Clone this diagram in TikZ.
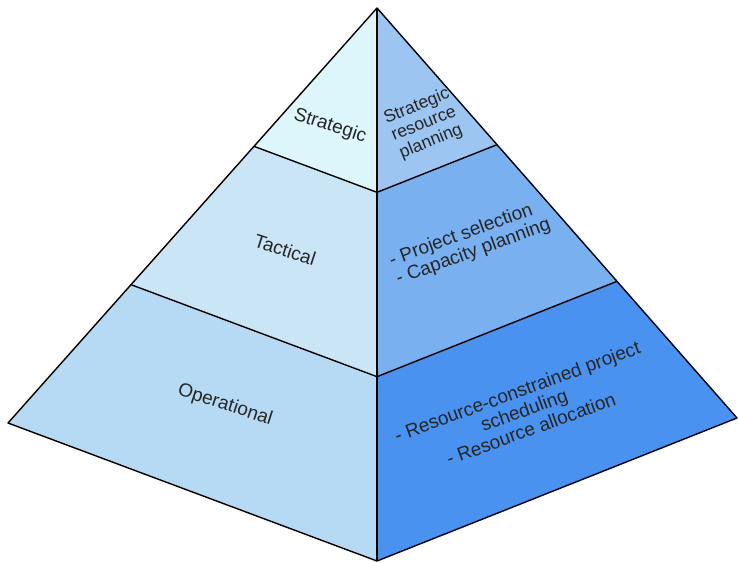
\documentclass[tikz,border=0pt]{standalone}
\usepackage{fontspec}
\setmainfont{Liberation Sans}
\usepackage{tikz}
\usetikzlibrary{calc}

\definecolor{stratL}{HTML}{DDF6FB}
\definecolor{stratR}{HTML}{9CC6F1}
\definecolor{tactL}{HTML}{CAE6F6}
\definecolor{tactR}{HTML}{79B0F0}
\definecolor{operL}{HTML}{B7DAF4}
\definecolor{operR}{HTML}{4A92EF}

\begin{document}
\begin{tikzpicture}[x=1pt,y=-1pt]
				\useasboundingbox (0,0) rectangle (738,562);
				% corners of the pyramid
				\coordinate (apex) at (377,8);
				\coordinate (left) at (8,423);
				\coordinate (front) at (377,561);
				\coordinate (right) at (737,418);
				% level points
				\foreach \c in {left,front,right} {
					\coordinate (\c1) at ($(apex)!1/3!(\c)$);
					\coordinate (\c2) at ($(apex)!2/3!(\c)$);
				}
				\begin{scope}[draw=none]
					\fill[stratL] (apex) -- (left1) -- (front1) -- cycle;
					\fill[stratR] (apex) -- (front1) -- (right1) -- cycle;
					\fill[tactL] (left1) -- (left2) -- (front2) -- (front1) -- cycle;
					\fill[tactR] (front1) -- (front2) -- (right2) -- (right1) -- cycle;
					\fill[operL] (left2) -- (left) -- (front) -- (front2) -- cycle;
					\fill[operR] (front2) -- (front) -- (right) -- (right2) -- cycle;
				\end{scope}
				\begin{scope}[line width=1.4pt, line join=round]
					\draw (apex) -- (left) -- (front) -- (right) -- cycle;
					\draw (apex) -- (front);
					\draw (left1) -- (front1) -- (right1);
					\draw (left2) -- (front2) -- (right2);
				\end{scope}
				\begin{scope}[every node/.style={font=\fontsize{19}{20}\selectfont, text=black!85, inner sep=1pt}]
					\node[rotate=-18] (strategic) at (330,126) {Strategic};
					\node[rotate=-18] (tactical) at (285,250) {Tactical};
					\node[rotate=-18] (operational) at (225,405) {Operational};
					\node[rotate=22, align=center, font=\fontsize{17.5}{19}\selectfont] (stratplan) at (424,124) {Strategic\\resource\\planning};
					\node[rotate=20, align=left] (tactplan) at (470,243) {- Project selection\\- Capacity planning};
					\node[rotate=20, align=center] (operplan) at (524,410) {- Resource-constrained project\\scheduling\\- Resource allocation};
				\end{scope}
			\end{tikzpicture}
\end{document}
